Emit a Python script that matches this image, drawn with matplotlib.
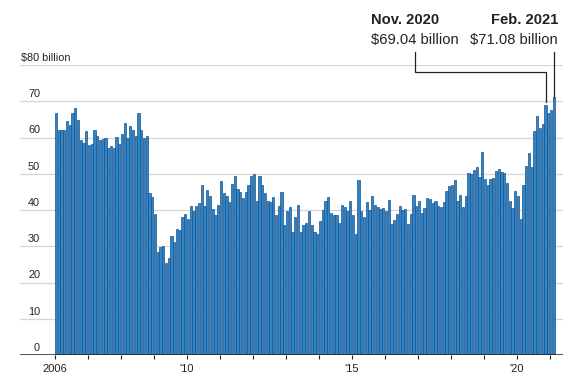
import numpy as np
import matplotlib.pyplot as plt
from matplotlib import font_manager

# monthly values, $ billion, Jan 2006 - Feb 2021
y2006 = [66.7, 62.0, 62.0, 62.2, 64.5, 63.4, 66.7, 68.1, 64.8, 59.2, 58.6, 61.7]
y2007 = [57.9, 58.1, 62.0, 60.3, 59.2, 59.7, 59.9, 57.0, 57.6, 57.2, 60.2, 58.1]
y2008 = [61.1, 63.9, 59.8, 63.3, 62.0, 60.5, 66.7, 62.0, 60.0, 60.5, 44.6, 43.6]
y2009 = [38.9, 28.4, 29.9, 30.2, 25.4, 26.7, 32.9, 31.2, 34.8, 34.6, 38.1, 39.0]
y2010 = [37.4, 41.1, 39.8, 41.2, 41.8, 47.0, 41.2, 45.4, 44.0, 40.3, 38.5, 41.5]
y2011 = [47.9, 44.6, 44.0, 42.3, 47.3, 49.5, 45.7, 44.9, 43.2, 45.1, 47.0, 49.3]
y2012 = [49.8, 42.6, 49.5, 47.0, 44.8, 42.6, 42.1, 43.7, 38.5, 41.2, 45.1, 36.0]
y2013 = [39.8, 40.7, 34.0, 38.2, 41.5, 34.0, 36.0, 36.3, 39.6, 36.0, 33.8, 33.5]
y2014 = [37.1, 39.9, 42.6, 43.5, 39.3, 38.7, 38.7, 36.5, 41.5, 40.7, 39.6, 42.6]
y2015 = [38.5, 33.5, 48.4, 39.6, 38.2, 42.3, 40.1, 44.0, 41.5, 40.7, 40.3, 40.6]
y2016 = [39.7, 42.8, 36.1, 37.2, 38.9, 41.1, 40.0, 40.3, 36.1, 38.9, 44.2, 41.1]
y2017 = [42.5, 39.2, 40.6, 43.3, 43.1, 41.9, 42.5, 41.1, 40.8, 42.2, 45.3, 46.7]
y2018 = [46.9, 48.3, 42.5, 44.2, 40.8, 43.9, 50.3, 50.0, 51.1, 51.9, 49.2, 56.1]
y2019 = [48.6, 46.9, 48.5, 48.9, 50.8, 51.4, 50.6, 50.3, 47.4, 42.5, 40.6, 45.3]
y2020 = [43.9, 37.5, 46.9, 52.2, 55.8, 52.0, 61.7, 65.8, 62.7, 63.8, 69.04, 66.7]
y2021 = [67.5, 71.08]

values = (y2006 + y2007 + y2008 + y2009 + y2010 + y2011 + y2012 + y2013
          + y2014 + y2015 + y2016 + y2017 + y2018 + y2019 + y2020 + y2021)
start_year = 2006
label_years = [2006, 2010, 2015, 2020]
year_labels = ['2006', "'10", "'15", "'20"]
grid_values = [10, 20, 30, 40, 50, 60, 70, 80]
ylabels = ['0', '10', '20', '30', '40', '50', '60', '70']

# callouts: (title, value text, year, month)
notes = [("Nov. 2020", "$69.04 billion", 2020, 11),
         ("Feb. 2021", "$71.08 billion", 2021, 2)]

names = {f.name for f in font_manager.fontManager.ttflist}
plt.rcParams['font.family'] = 'Liberation Sans' if 'Liberation Sans' in names else 'DejaVu Sans'

ink = '#222222'
x = np.arange(len(values))

fig = plt.figure(figsize=(5.7, 3.79), dpi=100)
ax = fig.add_axes([20 / 570, 24 / 379, 543 / 570, 290 / 379])
ax.set_xlim(-13.09, 184.36)
ax.set_ylim(0, 80)

ax.bar(x, values, width=0.82, color='#3384c6', edgecolor='#165590',
       linewidth=0.5, zorder=2)

# grid and baseline
ax.set_yticks(grid_values)
ax.yaxis.grid(True, color='#d6d6d6', linewidth=0.9)
ax.set_axisbelow(True)
ax.tick_params(axis='y', length=0, labelleft=False)
ax.axhline(0, color=ink, linewidth=1.1, zorder=3)
for s in ax.spines.values():
    s.set_visible(False)

# y labels sit above their gridlines
for v, lab in zip(range(0, 80, 10), ylabels):
    ax.text(-5.8, v + 0.6, lab, ha='right', va='bottom', fontsize=7.8, color=ink)
ax.text(-12.7, 80.6, '$80 billion', ha='left', va='bottom', fontsize=7.8, color=ink)

# year ticks
years = np.arange(start_year, start_year + len(values) // 12 + 1)
ticks = (years - start_year) * 12 - 0.4
ax.set_xticks(ticks)
ax.set_xticklabels([year_labels[label_years.index(y)] if y in label_years else ''
                    for y in years])
ax.tick_params(axis='x', length=3, width=0.8, color=ink, pad=3.5,
               labelsize=8, labelcolor=ink)

# callouts
for title, vtext, yr, mo in notes:
    i = (yr - start_year) * 12 + mo - 1
    v = values[i]
    if mo == 11:
        tx = 114.5
        lx = 130.5
        ax.plot([lx, lx, i, i], [83.6, 78.1, 78.1, v + 0.8], color=ink,
                linewidth=0.9, clip_on=False, zorder=4)
        ax.text(tx, 92.4, title, ha='left', va='center', fontsize=10.6,
                fontweight='bold', color=ink)
        ax.text(tx, 86.8, vtext, ha='left', va='center', fontsize=10.6, color=ink)
    else:
        tx = 182.5
        ax.plot([i, i], [83.6, v], color=ink, linewidth=0.9, clip_on=False, zorder=4)
        ax.text(tx, 92.4, title, ha='right', va='center', fontsize=10.6,
                fontweight='bold', color=ink)
        ax.text(tx, 86.8, vtext, ha='right', va='center', fontsize=10.6, color=ink)

fig.savefig('out.png', dpi=100)
